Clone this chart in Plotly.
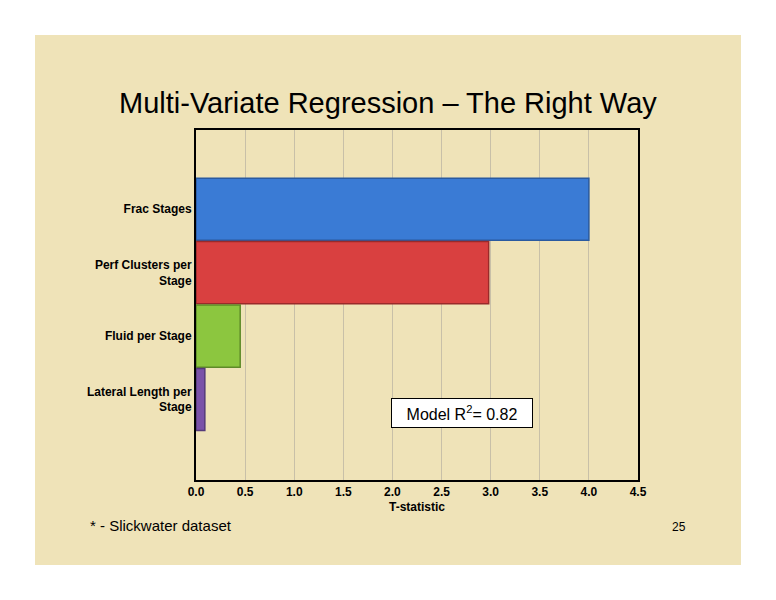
import plotly.graph_objects as go

categories = ["Frac Stages", "Perf Clusters per<br>Stage", "Fluid per Stage", "Lateral Length per<br>Stage"]
values = [4.0, 2.98, 0.45, 0.09]
colors = ["#3a7bd5", "#d94040", "#8cc63f", "#7a52a8"]
edges = ["#2a5aa0", "#9a2a2a", "#5e8a28", "#553a7a"]
ticks = [0.0, 0.5, 1.0, 1.5, 2.0, 2.5, 3.0, 3.5, 4.0, 4.5]

fig = go.Figure(go.Bar(
    x=values, y=list(range(4)), orientation="h",
    marker=dict(color=colors, line=dict(color=edges, width=1.5)),
    width=0.98))

fig.update_layout(
    width=768, height=592, paper_bgcolor="white", plot_bgcolor="#efe3b8",
    margin=dict(l=188, r=138, t=122, b=120), showlegend=False,
    font=dict(family="Arial, Liberation Sans", color="black"),
    xaxis=dict(range=[0, 4.5], tickvals=ticks, ticktext=[f"<b>{t:.1f}</b>" for t in ticks],
               showgrid=True, gridcolor="#c8c0a8", gridwidth=1, zeroline=False,
               tickfont=dict(size=12),
               title=dict(text="<b>T-statistic</b>", font=dict(size=12), standoff=4),
               showline=True, linecolor="black", linewidth=2, mirror=True, fixedrange=True),
    yaxis=dict(range=[4.27, -1.25], tickvals=list(range(4)), ticktext=[f"<b>{c}</b>" for c in categories],
               tickfont=dict(size=12), showgrid=False, zeroline=False,
               showline=True, linecolor="black", linewidth=2, mirror=True, ticks=""),
    shapes=[dict(type="rect", xref="paper", yref="paper", layer="below",
                 x0=(35-196)/442, x1=(741-196)/442, y0=(600-120-565)/350, y1=(600-120-35)/350,
                 fillcolor="#efe3b8", line=dict(width=0))],
    annotations=[
        dict(text="Multi-Variate Regression – The Right Way", xref="paper", yref="paper",
             x=(388-196)/442, y=(480-103)/350, yanchor="middle", showarrow=False, font=dict(size=29)),
        dict(text="Model R<sup>2</sup>= 0.82", xref="paper", yref="paper",
             x=(533-196)/442, y=(480-413)/350, yanchor="middle", showarrow=False, font=dict(size=16),
             bgcolor="white", bordercolor="black", borderwidth=1, width=138, height=26),
        dict(text="* - Slickwater dataset", xref="paper", yref="paper", xanchor="left",
             x=(88-196)/442, y=(480-525)/350, yanchor="middle", showarrow=False, font=dict(size=15)),
        dict(text="25", xref="paper", yref="paper",
             x=(688-196)/442, y=(480-527)/350, yanchor="middle", showarrow=False, font=dict(size=12)),
    ])
fig.write_html("out.html")
